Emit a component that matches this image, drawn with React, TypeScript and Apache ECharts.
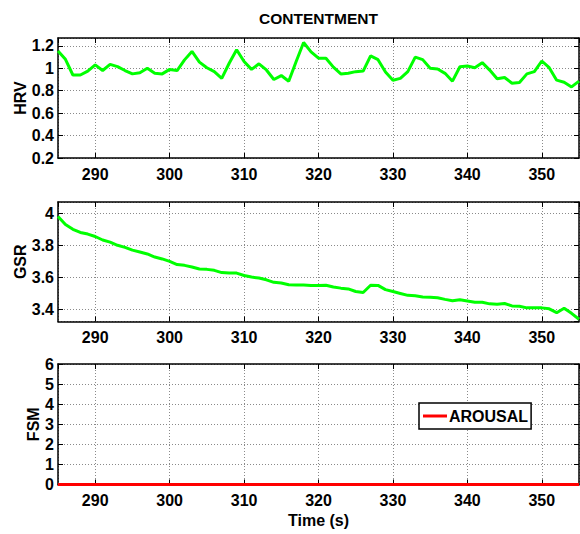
import React, { useEffect, useRef } from "react";
import * as echarts from "echarts";

const times: number[] = Array.from({ length: 71 }, (_, i) => 285 + i);

const hrv: number[] = [
  1.155, 1.08, 0.94, 0.94, 0.975, 1.03, 0.98, 1.035, 1.015, 0.98,
  0.95, 0.96, 1.0, 0.955, 0.95, 0.99, 0.98, 1.075, 1.15, 1.055,
  1.005, 0.97, 0.91, 1.045, 1.165, 1.06, 0.99, 1.04, 0.985, 0.9,
  0.935, 0.885, 1.06, 1.23, 1.146, 1.09, 1.09, 1.01, 0.95, 0.955,
  0.97, 0.975, 1.11, 1.077, 0.966, 0.894, 0.91, 0.97, 1.1, 1.077,
  1.0, 0.993, 0.955, 0.885, 1.014, 1.02, 1.005, 1.05, 0.984, 0.906,
  0.918, 0.867, 0.873, 0.95, 0.97, 1.065, 1.005, 0.894, 0.876, 0.834,
  0.885,
];

const gsr: number[] = [
  3.98, 3.93, 3.9, 3.88, 3.87, 3.855, 3.833, 3.82, 3.8, 3.787,
  3.77, 3.758, 3.746, 3.727, 3.715, 3.7, 3.68, 3.675, 3.665, 3.652,
  3.65, 3.644, 3.63, 3.627, 3.627, 3.612, 3.602, 3.596, 3.585, 3.569,
  3.565, 3.554, 3.552, 3.552, 3.55, 3.549, 3.551, 3.54, 3.533, 3.528,
  3.512, 3.506, 3.551, 3.55, 3.524, 3.512, 3.5, 3.488, 3.486, 3.478,
  3.476, 3.473, 3.463, 3.455, 3.461, 3.453, 3.445, 3.445, 3.435, 3.433,
  3.437, 3.422, 3.42, 3.41, 3.41, 3.41, 3.404, 3.38, 3.408, 3.376,
  3.339,
];

const arousalTimes: number[] = [285, 355];
const arousal: number[] = [0, 0];

const title = "CONTENTMENT";
const panelNames: string[] = ["HRV", "GSR", "FSM"];
const xName = "Time (s)";
const legendName = "AROUSAL";

const FONT = "'Liberation Sans', Arial, Helvetica, sans-serif";

export default function App() {
  const ref = useRef<HTMLDivElement>(null);

  useEffect(() => {
    if (!ref.current) return;
    const chart = echarts.init(ref.current, undefined, { renderer: "svg" });

    const txt = { fontFamily: FONT, fontWeight: "bold" as const, fontSize: 16, color: "#000" };
    const axisLine = { show: true, onZero: false, lineStyle: { color: "#000", width: 1.5 } };
    const axisTick = { show: true, inside: true, length: 5, lineStyle: { color: "#000", width: 1 } };
    const split = { show: true, lineStyle: { color: "#8a8a8a", width: 1, type: [1, 2] as any } };

    const grids = [
      { left: 58, right: 1, top: 38, height: 120 },
      { left: 58, right: 1, top: 202, height: 119.5 },
      { left: 58, right: 1, top: 364, height: 120.5 },
    ];

    const yCfg = [
      { min: 0.2, max: 1.27, interval: 0.2, showMin: true, showMax: false, gap: 30 },
      { min: 3.325, max: 4.07, splitNumber: 4, showMin: false, showMax: false, gap: 30 },
      { min: 0, max: 6, interval: 1, showMin: true, showMax: true, gap: 17 },
    ];

    const xAxes: any[] = [];
    const yAxes: any[] = [];
    for (let i = 0; i < 3; i++) {
      xAxes.push({
        gridIndex: i,
        type: "value",
        position: "bottom",
        min: 285,
        max: 355,
        splitNumber: 7,
        axisLine,
        axisTick,
        axisLabel: { ...txt, margin: 8, showMinLabel: false, showMaxLabel: false },
        splitLine: split,
        name: i === 2 ? xName : "",
        nameLocation: "middle",
        nameGap: 28,
        nameMoveOverlap: false,
        nameTextStyle: txt,
      });
    }
    for (let i = 0; i < 3; i++) {
      xAxes.push({
        gridIndex: i,
        type: "value",
        position: "top",
        min: 285,
        max: 355,
        splitNumber: 7,
        axisLine,
        axisTick,
        axisLabel: { show: false },
        splitLine: { show: false },
      });
    }
    for (let i = 0; i < 3; i++) {
      const c = yCfg[i];
      yAxes.push({
        gridIndex: i,
        type: "value",
        position: "left",
        min: c.min,
        max: c.max,
        ...(c.interval ? { interval: c.interval } : { splitNumber: c.splitNumber }),
        axisLine,
        axisTick,
        axisLabel: { ...txt, margin: 4, showMinLabel: c.showMin, showMaxLabel: c.showMax },
        splitLine: split,
        name: panelNames[i],
        nameLocation: "middle",
        nameGap: c.gap,
        nameMoveOverlap: false,
        nameTextStyle: txt,
      });
    }
    for (let i = 0; i < 3; i++) {
      const c = yCfg[i];
      yAxes.push({
        gridIndex: i,
        type: "value",
        position: "right",
        min: c.min,
        max: c.max,
        ...(c.interval ? { interval: c.interval } : { splitNumber: c.splitNumber }),
        axisLine,
        axisTick,
        axisLabel: { show: false },
        splitLine: { show: false },
      });
    }

    chart.setOption({
      animation: false,
      backgroundColor: "#fff",
      grid: grids,
      xAxis: xAxes,
      yAxis: yAxes,
      graphic: [
        {
          type: "text",
          x: 318.5,
          y: 18,
          style: {
            text: title,
            fontFamily: FONT,
            fontWeight: "bold",
            fontSize: 15.5,
            fill: "#000",
            textAlign: "center",
            textVerticalAlign: "middle",
          },
        },
      ],
      legend: {
        data: [{ name: legendName, icon: "rect" }],
        left: 419,
        top: 403,
        itemWidth: 24,
        itemHeight: 3,
        padding: [5, 3, 5, 4],
        borderColor: "#000",
        borderWidth: 1.5,
        borderRadius: 0,
        backgroundColor: "#fff",
        textStyle: { ...txt, padding: [0, 0, 0, -3] },
        selectedMode: false,
      },
      series: [
        {
          type: "line",
          name: "HRV",
          xAxisIndex: 0,
          yAxisIndex: 0,
          data: times.map((t, i) => [t, hrv[i]]),
          symbol: "none",
          lineStyle: { color: "#00ff00", width: 3 },
          itemStyle: { color: "#00ff00" },
        },
        {
          type: "line",
          name: "GSR",
          xAxisIndex: 1,
          yAxisIndex: 1,
          data: times.map((t, i) => [t, gsr[i]]),
          symbol: "none",
          lineStyle: { color: "#00ff00", width: 3 },
          itemStyle: { color: "#00ff00" },
        },
        {
          type: "line",
          name: legendName,
          xAxisIndex: 2,
          yAxisIndex: 2,
          data: arousalTimes.map((t, i) => [t, arousal[i]]),
          symbol: "none",
          clip: false,
          z: 5,
          lineStyle: { color: "#ff0000", width: 3 },
          itemStyle: { color: "#ff0000" },
        },
      ],
    });

    return () => chart.dispose();
  }, []);

  return (
    <div
      ref={ref}
      style={{ position: "absolute", left: 0, top: 0, width: 580, height: 534, background: "#fff" }}
    />
  );
}
